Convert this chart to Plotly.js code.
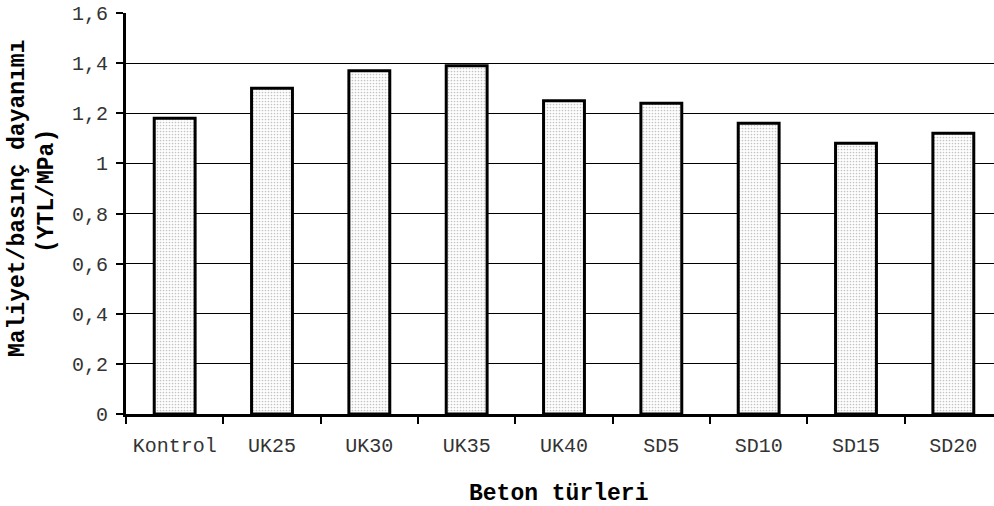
<!DOCTYPE html>
<html>
<head>
<meta charset="utf-8">
<script src="https://cdn.plot.ly/plotly-3.0.1.min.js"></script>
<style>
html,body{margin:0;padding:0;overflow:hidden;background:#fff;}
#chart{width:1002px;height:506px;}
</style>
</head>
<body>
<div id="chart"></div>
<script>
const categories = ["Kontrol","UK25","UK30","UK35","UK40","SD5","SD10","SD15","SD20"];
const values = [1.18, 1.30, 1.37, 1.39, 1.25, 1.24, 1.16, 1.08, 1.12];
const yTickVals = [0,0.2,0.4,0.6,0.8,1,1.2,1.4,1.6];
const yTickText = ["0","0,2","0,4","0,6","0,8","1","1,2","1,4","1,6"];
const yTitle1 = "Maliyet/basınç dayanımı";
const yTitle2 = "(YTL/MPa)";
const xTitle = "Beton türleri";

const W = 1002, H = 506, L = 126, T = 13, B = 92;
const pw = W - L, ph = H - T - B;
function px(x){ return (x - L)/pw; }
function py(y){ return (H - B - y)/ph; }

const font = "Liberation Mono, Courier New, monospace";

Plotly.newPlot("chart", [{
  type: "bar",
  x: categories,
  y: values,
  width: 0.42,
  marker: {
    color: "#ffffff",
    line: {color: "#000", width: 3},
    pattern: {shape: ".", fgcolor: "#c4c4c4", bgcolor: "#ffffff", size: 3, solidity: 0.25}
  },
  hoverinfo: "none"
}], {
  width: W, height: H,
  margin: {l: L, r: 0, t: T, b: B, pad: 0},
  paper_bgcolor: "#fff",
  plot_bgcolor: "#fff",
  showlegend: false,
  font: {family: font, size: 20, color: "#000"},
  xaxis: {
    type: "category",
    range: [-0.5, 8.5],
    showline: true, linecolor: "#000", linewidth: 3,
    ticks: "outside", tickson: "boundaries", ticklen: 7, tickwidth: 2, tickcolor: "#000",
    showgrid: false,
    tickfont: {family: font, size: 20, color: "#333"},
    ticklabelstandoff: 11
  },
  yaxis: {
    range: [0, 1.6],
    tickvals: yTickVals, ticktext: yTickText,
    showline: true, linecolor: "#000", linewidth: 3,
    ticks: "outside", ticklen: 7, tickwidth: 2, tickcolor: "#000",
    showgrid: true, gridcolor: "#000", gridwidth: 1,
    zeroline: false,
    tickfont: {family: font, size: 20, color: "#333"},
    ticklabelstandoff: 4
  },
  annotations: [
    {text: "<b>" + yTitle1 + "</b>", xref: "paper", yref: "paper", x: px(18), y: py(199),
     xanchor: "center", yanchor: "middle", textangle: -90, showarrow: false,
     font: {family: font, size: 23, color: "#000"}},
    {text: "<b>" + yTitle2 + "</b>", xref: "paper", yref: "paper", x: px(47), y: py(191),
     xanchor: "center", yanchor: "middle", textangle: -90, showarrow: false,
     font: {family: font, size: 23, color: "#000"}},
    {text: "<b>" + xTitle + "</b>", xref: "paper", yref: "paper", x: px(558), y: py(494),
     xanchor: "center", yanchor: "middle", showarrow: false,
     font: {family: font, size: 23, color: "#000"}}
  ]
}, {staticPlot: true});
</script>
</body>
</html>
